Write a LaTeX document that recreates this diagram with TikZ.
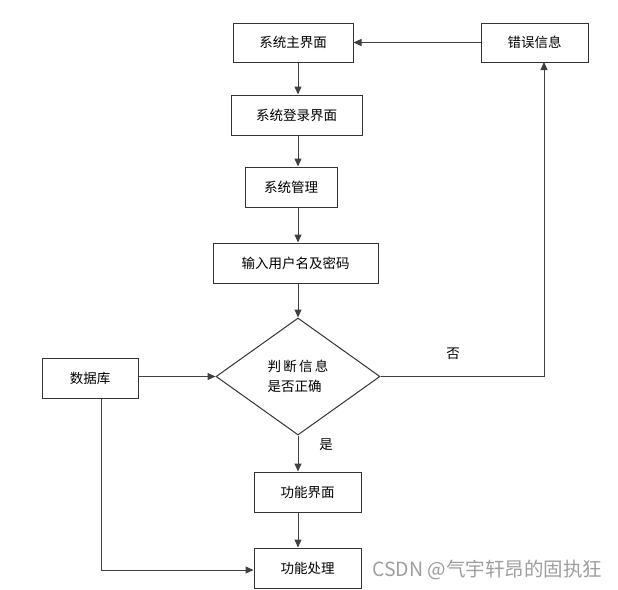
\documentclass[tikz,border=0pt]{standalone}
\usepackage{fontspec}
\newfontfamily\cjk{Noto Sans CJK SC}
\usetikzlibrary{arrows.meta,shapes.geometric}
\begin{document}
\begin{tikzpicture}[x=1pt,y=-1pt,
  box/.style={draw=black!80,line width=1pt,rectangle,inner sep=0pt,font=\cjk\fontsize{13.5}{16}\selectfont},
  dec/.style={draw=black!80,line width=1pt,diamond,inner sep=0pt,minimum width=164pt,minimum height=117pt,font=\cjk\fontsize{13.5}{20}\selectfont,align=left},
  conn/.style={draw=black!75,line width=1pt,-{Triangle[length=8pt,width=7pt]}},
  lbl/.style={font=\cjk\fontsize{13.5}{16}\selectfont}]
\useasboundingbox (0,0) rectangle (618,589);
\node[box,minimum width=120pt,minimum height=39pt] (main) at (293,42.5) {系统主界面};
\node[box,minimum width=107pt,minimum height=39pt] (err) at (534.5,42.5) {错误信息};
\node[box,minimum width=131pt,minimum height=40pt] (login) at (296.5,115) {系统登录界面};
\node[box,minimum width=92pt,minimum height=40pt] (mgmt) at (291,187) {系统管理};
\node[box,minimum width=165pt,minimum height=40pt] (input) at (295.5,263) {输入用户名及密码};
\node[dec] (dia) at (298,376.5) {判\,断\,信\,息\\是否正确};
\node[box,minimum width=96pt,minimum height=40pt] (db) at (90,378) {数据库};
\node[box,minimum width=107pt,minimum height=40pt] (func) at (307.5,492) {功能界面};
\node[box,minimum width=107pt,minimum height=40pt] (proc) at (307.5,568) {功能处理};
\coordinate (errin) at (544,62);
\draw[conn] (main.south -| dia.north) -- (login.north -| dia.north);
\draw[conn] (login.south -| dia.north) -- (mgmt.north -| dia.north);
\draw[conn] (mgmt.south -| dia.north) -- (input.north -| dia.north);
\draw[conn] (input.south -| dia.north) -- (dia.north);
\draw[conn] (dia.south) -- (func.north -| dia.south);
\draw[conn] (func.south -| dia.south) -- (proc.north -| dia.south);
\draw[conn] (err.west) -- (main.east);
\draw[conn] (dia.east) -| (errin);
\draw[conn] (db.east |- dia.west) -- (dia.west);
\draw[conn] ([xshift=11pt]db.south) |- ([yshift=-2pt]proc.west);
\node[lbl] (no) at (453,354) {否};
\node[lbl] (yes) at (326,445) {是};
\node[anchor=west,text=black!38,inner sep=0pt,font=\cjk\fontsize{19.5}{22}\selectfont] (wm) at (372,570) {CSDN @气宇轩昂的固执狂};
\end{tikzpicture}
\end{document}
